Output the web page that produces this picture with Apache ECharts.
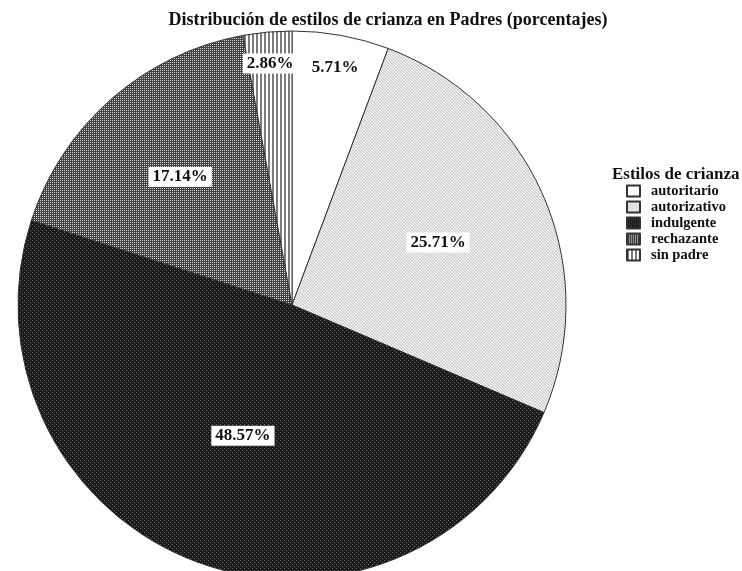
<!DOCTYPE html>
<html>
<head>
<meta charset="utf-8">
<script src="https://cdn.jsdelivr.net/npm/echarts@6/dist/echarts.min.js"></script>
<style>
  html, body { margin: 0; padding: 0; background: #fff; }
  #chart { width: 742px; height: 571px; }
</style>
</head>
<body>
<div id="chart"></div>
<script>
// Parenting styles among fathers, in percent
var categories = ['autoritario', 'autorizativo', 'indulgente', 'rechazante', 'sin padre'];
var percentages = [5.71, 25.71, 48.57, 17.14, 2.86];

var chartTitle = 'Distribución de estilos de crianza en Padres (porcentajes)';
var legendTitle = 'Estilos de crianza';

// Radial placement of each label as a fraction of the pie radius
var labelRadius = [0.88, 0.58, 0.51, 0.62, 0.885];

var SERIF = '"Liberation Serif", "DejaVu Serif", "Times New Roman", serif';
var CENTER = [292, 305];
var RADIUS = 274;

// Small repeating tiles used as hatch fills
function tile(w, h, bg, draw) {
  var c = document.createElement('canvas');
  c.width = w; c.height = h;
  var g = c.getContext('2d');
  g.fillStyle = bg;
  g.fillRect(0, 0, w, h);
  draw(g);
  return { image: c, repeat: 'repeat' };
}
function dots(w, h, bg, fg, pts) {
  return tile(w, h, bg, function (g) {
    g.fillStyle = fg;
    pts.forEach(function (p) { g.fillRect(p[0], p[1], 1, 1); });
  });
}

var fills = [
  '#ffffff',
  dots(3, 3, '#d2d2d2', '#ffffff', [[0, 0], [1, 1], [2, 2]]),
  dots(4, 4, '#1a1a1a', '#6a6a6a', [[0, 0], [2, 2]]),
  dots(4, 4, '#404040', '#dadada', [[0, 0], [2, 2], [2, 0], [0, 2]]),
  tile(4, 4, '#ffffff', function (g) { g.fillStyle = '#7c7c7c'; g.fillRect(0, 0, 2, 4); })
];

var seriesData = categories.map(function (name, i) {
  return { name: name, value: percentages[i], itemStyle: { color: fills[i] } };
});

// Mid angle of each slice (clockwise from 12 o'clock)
var total = percentages.reduce(function (a, b) { return a + b; }, 0);
var midAngles = [];
(function () {
  var acc = 0;
  percentages.forEach(function (v) {
    midAngles.push((acc + v / 2) / total * 2 * Math.PI);
    acc += v;
  });
})();

var chart = echarts.init(document.getElementById('chart'), null, { renderer: 'canvas' });
chart.setOption({
  animation: false,
  backgroundColor: '#ffffff',
  title: [
    {
      text: chartTitle,
      left: 383, top: 6, textAlign: 'center',
      textStyle: { fontFamily: SERIF, fontWeight: 'bold', fontSize: 18, color: '#111' }
    },
    {
      text: legendTitle,
      left: 607, top: 161,
      textStyle: { fontFamily: SERIF, fontWeight: 'bold', fontSize: 17, color: '#111' }
    }
  ],
  legend: {
    orient: 'vertical',
    left: 626, top: 183,
    itemWidth: 13, itemHeight: 11, itemGap: 0,
    icon: 'rect',
    padding: 0,
    selectedMode: false,
    textStyle: { fontFamily: SERIF, fontWeight: 'bold', fontSize: 14.5, lineHeight: 16, color: '#111', padding: [0, 0, 0, 6] },
    data: categories
  },
  series: [{
    type: 'pie',
    center: CENTER,
    radius: RADIUS,
    startAngle: 90,
    clockwise: true,
    silent: true,
    itemStyle: { borderColor: '#333', borderWidth: 1 },
    label: {
      show: true,
      position: 'inside',
      formatter: function (p) { return p.value.toFixed(2) + '%'; },
      fontFamily: SERIF, fontWeight: 'bold', fontSize: 17, color: '#111',
      backgroundColor: '#ffffff',
      padding: [2, 4, 1, 4],
      align: 'center', verticalAlign: 'middle'
    },
    labelLine: { show: false },
    labelLayout: function (p) {
      var a = midAngles[p.dataIndex];
      var f = labelRadius[p.dataIndex];
      return {
        x: CENTER[0] + Math.sin(a) * RADIUS * f,
        y: CENTER[1] - Math.cos(a) * RADIUS * f,
        align: 'center', verticalAlign: 'middle'
      };
    },
    data: seriesData
  }]
});
</script>
</body>
</html>
